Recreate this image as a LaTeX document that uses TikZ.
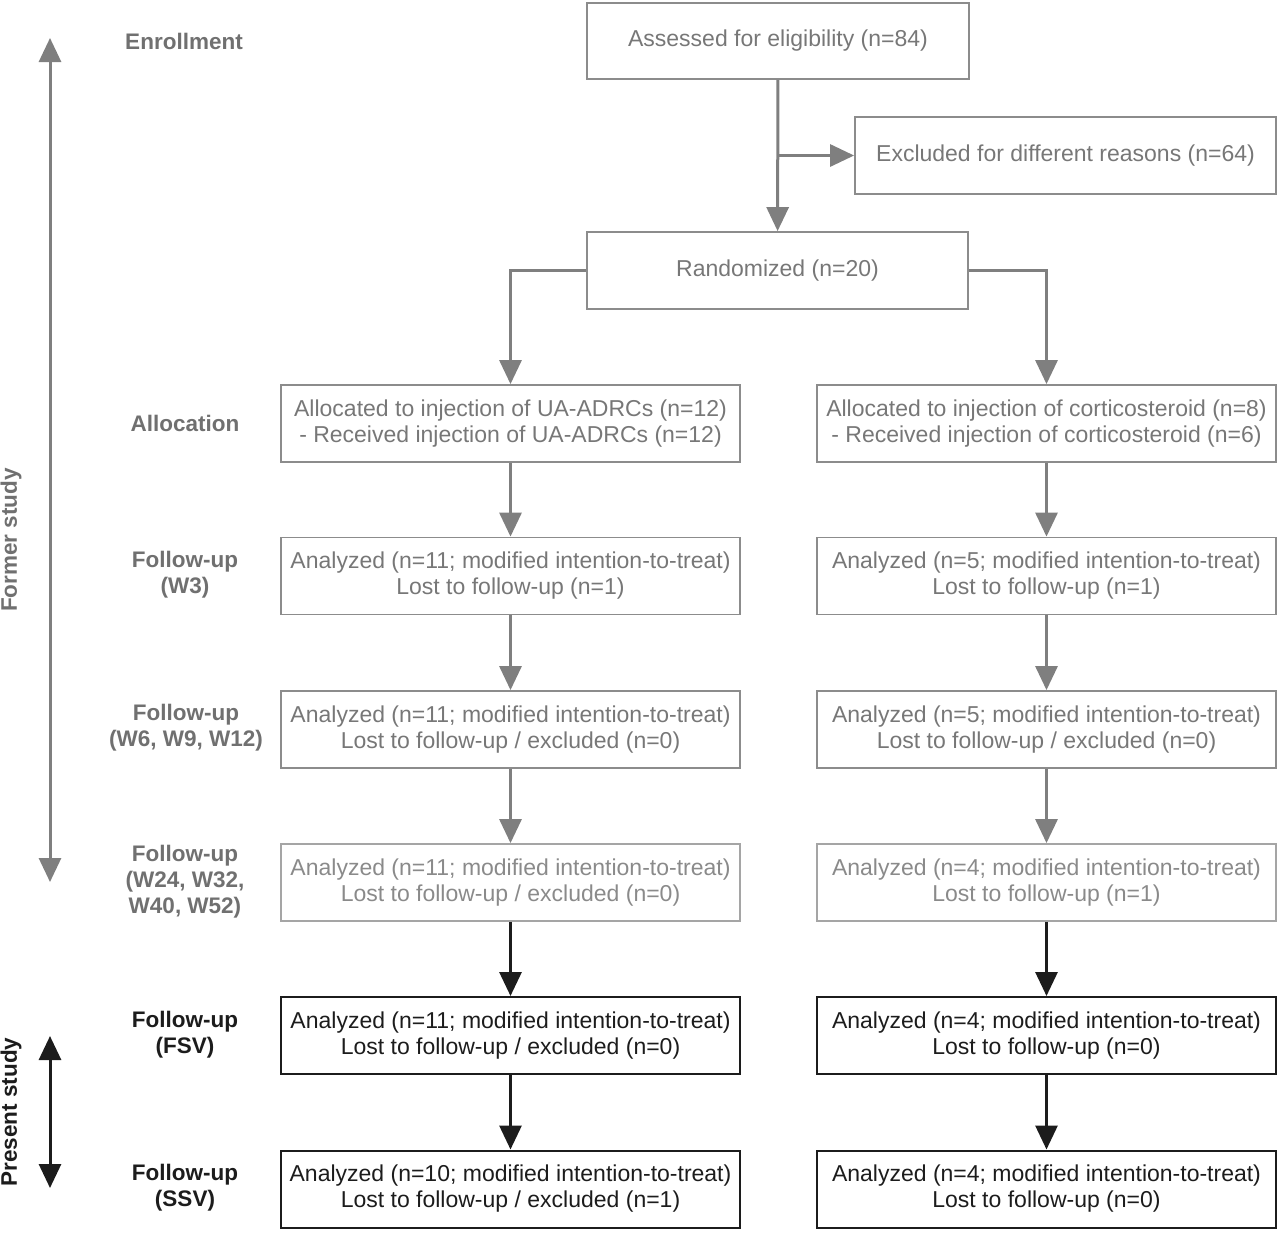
\documentclass[tikz,border=0pt]{standalone}
\usepackage{fontspec}
\setmainfont{Liberation Sans}
\usetikzlibrary{arrows.meta}
\definecolor{gtext}{HTML}{777777}
\definecolor{gtextl}{HTML}{8A8A8A}
\definecolor{gborder}{HTML}{8C8C8C}
\definecolor{gborderl}{HTML}{A5A5A5}
\definecolor{glabel}{HTML}{707070}
\definecolor{garrow}{HTML}{7F7F7F}
\definecolor{dark}{HTML}{1C1C1C}
\begin{document}
\begin{tikzpicture}[x=1pt,y=-1pt,
  font=\fontsize{23}{26}\selectfont,
  >={Triangle[length=24pt,width=22pt]},
  gbox/.style={draw=gborder, line width=1.8pt, minimum width=459pt, minimum height=77pt, text=gtext, align=center, inner sep=0pt},
  lbox/.style={gbox, draw=gborderl, text=gtextl},
  bbox/.style={draw=dark, line width=2pt, minimum width=459pt, minimum height=77pt, text=dark, align=center, inner sep=0pt},
  lbl/.style={font=\fontsize{22.5}{26}\selectfont\bfseries, text=glabel, align=center, inner sep=0pt},
  blbl/.style={lbl, text=dark},
  garr/.style={draw=garrow, line width=3pt, ->},
  barr/.style={draw=dark, line width=3pt, ->}
]
\useasboundingbox (0,0) rectangle (1280,1232);

% top boxes
\node[gbox, minimum width=382pt, minimum height=76pt] (assess) at (778,41) {Assessed for eligibility (n=84)};
\node[gbox, minimum width=421pt] (excl) at (1065.5,155.5) {Excluded for different reasons (n=64)};
\node[gbox, minimum width=381pt] (rand) at (777.5,270.5) {Randomized (n=20)};

% left column
\node[gbox] (allocL) at (510.5,423.5) {Allocated to injection of UA-ADRCs (n=12)\\- Received injection of UA-ADRCs (n=12)};
\node[gbox] (w3L) at (510.5,576) {Analyzed (n=11; modified intention-to-treat)\\Lost to follow-up (n=1)};
\node[gbox] (w6L) at (510.5,729.5) {Analyzed (n=11; modified intention-to-treat)\\Lost to follow-up / excluded (n=0)};
\node[lbox] (w24L) at (510.5,882.5) {Analyzed (n=11; modified intention-to-treat)\\Lost to follow-up / excluded (n=0)};
\node[bbox] (fsvL) at (510.5,1035.5) {Analyzed (n=11; modified intention-to-treat)\\Lost to follow-up / excluded (n=0)};
\node[bbox] (ssvL) at (510.5,1189) {Analyzed (n=10; modified intention-to-treat)\\Lost to follow-up / excluded (n=1)};

% right column
\node[gbox] (allocR) at (1046.5,423.5) {Allocated to injection of corticosteroid (n=8)\\- Received injection of corticosteroid (n=6)};
\node[gbox] (w3R) at (1046.5,576) {Analyzed (n=5; modified intention-to-treat)\\Lost to follow-up (n=1)};
\node[gbox] (w6R) at (1046.5,729.5) {Analyzed (n=5; modified intention-to-treat)\\Lost to follow-up / excluded (n=0)};
\node[lbox] (w24R) at (1046.5,882.5) {Analyzed (n=4; modified intention-to-treat)\\Lost to follow-up (n=1)};
\node[bbox] (fsvR) at (1046.5,1035.5) {Analyzed (n=4; modified intention-to-treat)\\Lost to follow-up (n=0)};
\node[bbox] (ssvR) at (1046.5,1189) {Analyzed (n=4; modified intention-to-treat)\\Lost to follow-up (n=0)};

% stage labels
\node[lbl] (lenr) at (184,41) {Enrollment};
\node[lbl] (lall) at (185,423) {Allocation};
\node[lbl] (lw3) at (185,575) {Follow-up\\(W3)};
\node[lbl] (lw6) at (186,728) {Follow-up\\(W6, W9, W12)};
\node[lbl] (lw24) at (185,882) {Follow-up\\(W24, W32,\\W40, W52)};
\node[blbl] (lfsv) at (185,1035) {Follow-up\\(FSV)};
\node[blbl] (lssv) at (185,1188) {Follow-up\\(SSV)};

% side arrows
\coordinate (ftop) at (50,38);
\coordinate (fbot) at (50,882);
\draw[garr, <->] (ftop) -- (fbot);
\node[lbl, rotate=90] (former) at (11,540) {Former study};
\coordinate (ptop) at (50,1036);
\coordinate (pbot) at (50,1188);
\draw[barr, <->] (ptop) -- (pbot);
\node[blbl, rotate=90] (present) at (11,1112) {Present study};

% connectors
\draw[garr] (assess) -- (rand);
\draw[garr] (assess.south |- excl.west) -- (excl.west);
\draw[garr] (rand.west) -| (allocL.north);
\draw[garr] (rand.east) -| (allocR.north);
\draw[garr] (allocL) -- (w3L);
\draw[garr] (w3L) -- (w6L);
\draw[garr] (w6L) -- (w24L);
\draw[barr] (w24L) -- (fsvL);
\draw[barr] (fsvL) -- (ssvL);
\draw[garr] (allocR) -- (w3R);
\draw[garr] (w3R) -- (w6R);
\draw[garr] (w6R) -- (w24R);
\draw[barr] (w24R) -- (fsvR);
\draw[barr] (fsvR) -- (ssvR);
\end{tikzpicture}
\end{document}
